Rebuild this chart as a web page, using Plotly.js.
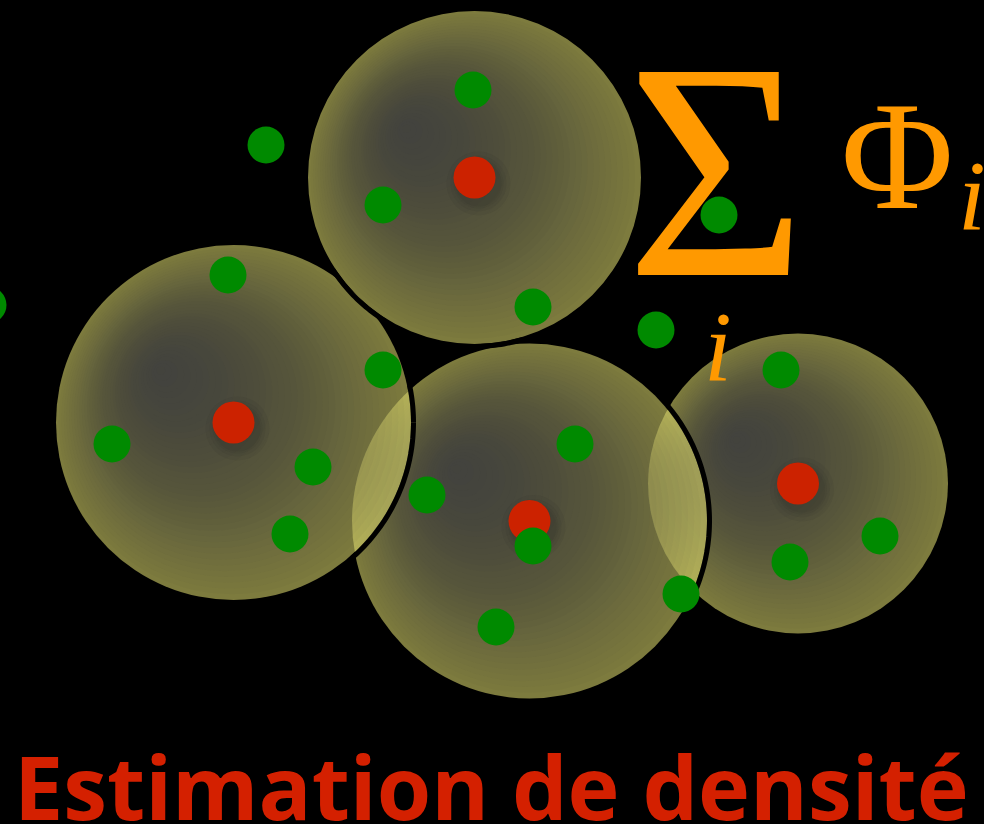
<!DOCTYPE html>
<html><head><meta charset="utf-8">
<script src="https://cdn.plot.ly/plotly-3.0.1.min.js"></script>
<style>html,body{margin:0;padding:0;background:#000;}#chart{width:984px;height:824px;}</style>
</head><body><div id="chart"></div>
<script>
// Kernels (drawn bottom to top): centres and radii
const kernelX = [798, 529.5, 233.5, 474.5];
const kernelY = [483.5, 521, 422.5, 177.5];
const kernelR = [150, 177.5, 177.5, 166.5];
// Sample points
const greenX = [473, 266, 383, 533, 719, 656, 781, 228, 383, 112, 313, 290, 427, 575, 533, 496, 681, 790, 880, -12];
const greenY = [90, 145, 205, 307, 215, 330, 370, 275, 370, 444, 467, 534, 495, 444, 546, 627, 594, 562, 536, 305];
// Texts
const titleText = 'Estimation de densité';
const sumSymbol = 'Σ';
const sumIndex = '<i>i</i>';
const phiSymbol = 'Φ';
const phiIndex = '<i>i</i>';

const shapes = [];
const N = 40, Fmin = 0.03, P = 1.5;
const focal = [-0.42, -0.30];
const ringW = 5;
for (let i = 0; i < kernelX.length; i++) {
  const cx = kernelX[i], cy = kernelY[i], r = kernelR[i];
  shapes.push({type:'circle', xref:'x', yref:'y', layer:'below', x0:cx-r, x1:cx+r, y0:cy-r, y1:cy+r,
    fillcolor:'rgba(228,225,112,0.56)', line:{width:0}});
  const fx = cx + focal[0]*r, fy = cy + focal[1]*r;
  let prev = 1;
  for (let k = 0; k < N; k++) {
    const t = k / N;
    const s = 1 - (k+1)/N;
    const F = Fmin + (1-Fmin)*Math.pow(s, P);
    const a = 1 - F/prev; prev = F;
    const ccx = cx + t*(fx-cx), ccy = cy + t*(fy-cy), rr = r*(1-t);
    shapes.push({type:'circle', xref:'x', yref:'y', layer:'below', x0:ccx-rr, x1:ccx+rr, y0:ccy-rr, y1:ccy+rr,
      fillcolor:'rgba(68,68,64,' + a.toFixed(4) + ')', line:{width:0}});
  }
  // black rim where this kernel lies over earlier ones
  const rr = r + ringW/2;
  let seg = []; const segs = [];
  for (let d = 0; d <= 360; d++) {
    const th = d*Math.PI/180;
    const px = cx + rr*Math.cos(th), py = cy + rr*Math.sin(th);
    let inside = false;
    for (let j = 0; j < i; j++) {
      if (Math.hypot(px-kernelX[j], py-kernelY[j]) < kernelR[j] + ringW) inside = true;
    }
    if (inside) seg.push([px, py]); else { if (seg.length > 1) segs.push(seg); seg = []; }
  }
  if (seg.length > 1) segs.push(seg);
  segs.forEach(s => {
    const path = 'M ' + s.map(p => p[0].toFixed(2) + ',' + p[1].toFixed(2)).join(' L ');
    shapes.push({type:'path', xref:'x', yref:'y', layer:'below', path:path, line:{color:'#000', width:ringW}});
  });
}
// soft shadows under the centres
for (let i = 0; i < kernelX.length; i++) {
  [32, 28, 25, 23].forEach(rs => {
    const sx = kernelX[i] + 4, sy = kernelY[i] + 6;
    shapes.push({type:'circle', xref:'x', yref:'y', layer:'below', x0:sx-rs, x1:sx+rs, y0:sy-rs, y1:sy+rs,
      fillcolor:'rgba(40,40,40,0.08)', line:{width:0}});
  });
}

const traces = [
  {type:'scatter', mode:'markers', x:kernelX, y:kernelY, marker:{size:42, color:'#cc2200', line:{width:0}}, hoverinfo:'skip'},
  {type:'scatter', mode:'markers', x:greenX, y:greenY, marker:{size:37, color:'#008a00', line:{width:0}}, hoverinfo:'skip'}
];

const orange = '#ff9900';
const serif = 'Liberation Serif, DejaVu Serif, serif';
const annotations = [
  {x:716, y:170, xref:'x', yref:'y', text:sumSymbol, showarrow:false, xanchor:'center', yanchor:'middle', font:{family:serif, size:310, color:orange}},
  {x:718, y:346, xref:'x', yref:'y', text:sumIndex, showarrow:false, xanchor:'center', yanchor:'middle', font:{family:serif, size:100, color:orange}},
  {x:897, y:156, xref:'x', yref:'y', text:phiSymbol, showarrow:false, xanchor:'center', yanchor:'middle', font:{family:serif, size:154, color:orange}},
  {x:972, y:195, xref:'x', yref:'y', text:phiIndex, showarrow:false, xanchor:'center', yanchor:'middle', font:{family:serif, size:100, color:orange}},
  {x:491, y:786, xref:'x', yref:'y', text:titleText, showarrow:false, xanchor:'center', yanchor:'middle', font:{family:'Open Sans', weight:700, size:88, color:'#d42000'}}
];

const layout = {
  width:984, height:824, autosize:false,
  margin:{l:0, r:0, t:0, b:0, pad:0},
  paper_bgcolor:'#000', plot_bgcolor:'#000',
  showlegend:false, hovermode:false,
  xaxis:{range:[0,984], visible:false, fixedrange:true},
  yaxis:{range:[824,0], visible:false, fixedrange:true},
  shapes:shapes, annotations:annotations
};
Plotly.newPlot('chart', traces, layout, {staticPlot:true, displayModeBar:false});
</script>
</body></html>
